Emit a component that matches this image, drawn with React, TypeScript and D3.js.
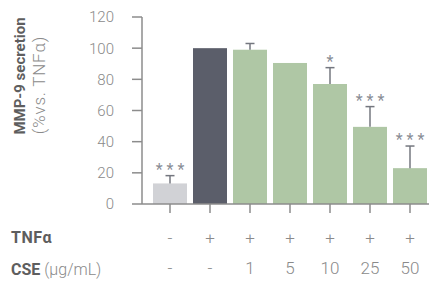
import * as d3 from "d3";

const groups = ["ctrl", "tnf", "c1", "c5", "c10", "c25", "c50"];
const values = [13.2, 100, 99, 90.5, 77, 49.5, 23];
const errors = [5, 0, 4, 0, 10.5, 13, 14.2];
const stars = ["***", "", "", "", "*", "***", "***"];
const tnfRow = ["-", "+", "+", "+", "+", "+", "+"];
const cseRow = ["-", "-", "1", "5", "10", "25", "50"];
const yTicks = [0, 20, 40, 60, 80, 100, 120];

const W = 429;
const H = 284;
const axisX = 142;
const axisY = 204;

function barColor(i: number) {
  if (i === 0) return "#d1d2d6";
  if (i === 1) return "#5b5e6a";
  return "#afc7a5";
}

export default function App() {
  const x = d3.scaleBand<string>().domain(groups).range([150, 430]).paddingInner(0.15).paddingOuter(0.075);
  const y = d3.scaleLinear().domain([0, 120]).range([axisY, 17]);
  const bw = x.bandwidth();
  const font = "Roboto, 'Open Sans', sans-serif";

  return (
    <svg
      width={W}
      height={H}
      viewBox={`0 0 ${W} ${H}`}
      style={{ position: "absolute", left: 0, top: 0, background: "#fff" }}
      fontFamily={font}
    >
      {/* bars */}
      {groups.map((g, i) => (
        <rect key={g} x={x(g)} y={y(values[i])} width={bw} height={axisY - y(values[i])} fill={barColor(i)} />
      ))}

      {/* error bars + significance */}
      {groups.map((g, i) => {
        if (!errors[i]) return null;
        const cx = (x(g) ?? 0) + bw / 2;
        const top = y(values[i] + errors[i]);
        return (
          <g key={g} stroke="#74777f" strokeWidth={1.5}>
            <line x1={cx} x2={cx} y1={y(values[i])} y2={top} />
            <line x1={cx - 4.5} x2={cx + 4.5} y1={top} y2={top} />
            {stars[i] && (
              <text
                x={cx + 2}
                y={top - 1}
                stroke="none"
                fill="#8a8d96"
                fontSize={16}
                textAnchor="middle"
                letterSpacing={4}
              >
                {stars[i]}
              </text>
            )}
          </g>
        );
      })}

      {/* y axis */}
      <line x1={axisX} x2={axisX} y1={y(120)} y2={axisY} stroke="#8c8c8c" strokeWidth={1.5} />
      {yTicks.map((t) => (
        <g key={t}>
          <line x1={132} x2={axisX} y1={y(t)} y2={y(t)} stroke="#8c8c8c" strokeWidth={1.5} />
          <text x={114} y={y(t)} dy="0.36em" textAnchor="end" fontSize={15} fontWeight={300} fill="#8a8a8a">
            {t}
          </text>
        </g>
      ))}

      {/* x axis */}
      <line x1={axisX} x2={W} y1={axisY} y2={axisY} stroke="#8c8c8c" strokeWidth={1.5} />
      {groups.map((g) => {
        const cx = (x(g) ?? 0) + bw / 2;
        return <line key={g} x1={cx} x2={cx} y1={axisY} y2={213} stroke="#8c8c8c" strokeWidth={1.5} />;
      })}

      {/* y title */}
      <g transform="translate(25,76) rotate(-90)">
        <text textAnchor="middle" fontSize={15} fontWeight={700} fill="#5e5e5e">
          MMP-9 secretion
        </text>
      </g>
      <g transform="translate(45,85) rotate(-90)">
        <text textAnchor="middle" fontSize={17} fontWeight={300} fill="#8a8a8a" letterSpacing={0.8}>
          (%vs. TNFα)
        </text>
      </g>

      {/* treatment table */}
      <text x={11} y={243} fontSize={16} fontWeight={700} fill="#5e5e5e" letterSpacing={0.5}>
        TNFα
      </text>
      <text x={11} y={275} fontSize={16} fill="#5e5e5e">
        <tspan fontWeight={700}>CSE</tspan>
        <tspan fontWeight={300} fill="#8a8a8a"> (µg/mL)</tspan>
      </text>
      {groups.map((g, i) => {
        const cx = (x(g) ?? 0) + bw / 2;
        return (
          <g key={g} fill="#8a8a8a" fontWeight={300} textAnchor="middle">
            <text x={cx} y={244} fontSize={17}>
              {tnfRow[i]}
            </text>
            <text x={cx} y={274} fontSize={17}>
              {cseRow[i]}
            </text>
          </g>
        );
      })}
    </svg>
  );
}
